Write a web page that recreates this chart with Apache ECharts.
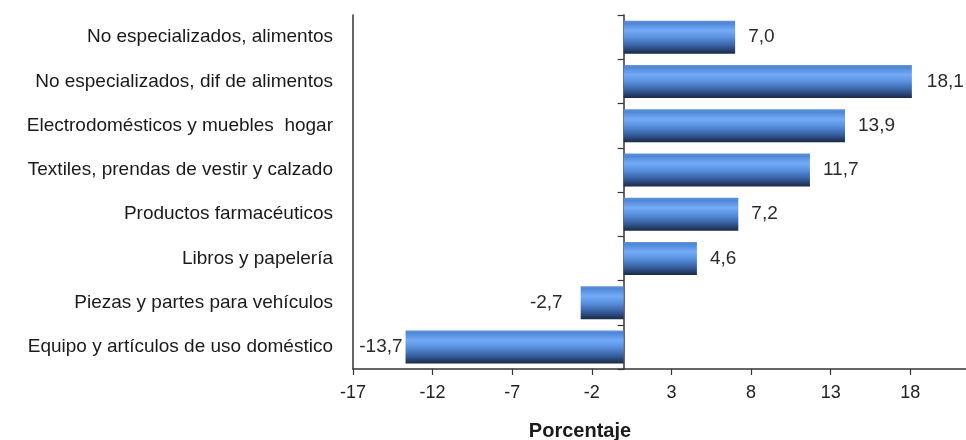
<!DOCTYPE html>
<html>
<head>
<meta charset="utf-8">
<script src="https://cdn.jsdelivr.net/npm/echarts@6/dist/echarts.min.js"></script>
<style>
  html, body { margin: 0; padding: 0; background: #ffffff; }
  #chart { width: 966px; height: 440px; }
</style>
</head>
<body>
<div id="chart"></div>
<script>
// Retail categories, listed top to bottom
const categories = [
  'No especializados, alimentos',
  'No especializados, dif de alimentos',
  'Electrodomésticos y muebles  hogar',
  'Textiles, prendas de vestir y calzado',
  'Productos farmacéuticos',
  'Libros y papelería',
  'Piezas y partes para vehículos',
  'Equipo y artículos de uso doméstico'
];

// Annual change, percent
const values = [7.0, 18.1, 13.9, 11.7, 7.2, 4.6, -2.7, -13.7];

// Tick marks on the percentage axis
const tickValues = [-17, -12, -7, -2, 3, 8, 13, 18];

// Gap between a bar end and its value label
const labelGaps = [13, 15, 13, 13, 13, 13, 18, 3];

const axisMin = -17;
const axisMax = 21.5;
const axisStep = 5;

const textFont = '"Liberation Sans", Arial, sans-serif';

const barFill = new echarts.graphic.LinearGradient(0, 0, 0, 1, [
  { offset: 0.00, color: '#6393d8' },
  { offset: 0.08, color: '#4f86d6' },
  { offset: 0.30, color: '#74abf8' },
  { offset: 0.50, color: '#5a92e0' },
  { offset: 0.75, color: '#3a63a6' },
  { offset: 1.00, color: '#1a2a47' }
]);

const fmt = v => v.toFixed(1).replace('.', ',');

const barData = values.map((v, i) => ({
  value: v,
  label: {
    position: v < 0 ? 'left' : 'right',
    distance: labelGaps[i]
  }
}));

const chart = echarts.init(document.getElementById('chart'), null, { renderer: 'canvas' });

chart.setOption({
  animation: false,
  backgroundColor: '#ffffff',
  grid: { left: 353, right: 0, top: 15, bottom: 71, containLabel: false },
  xAxis: {
    type: 'value',
    min: axisMin,
    max: axisMax,
    interval: axisStep,
    axisLine: { show: true, onZero: false, lineStyle: { color: '#333333', width: 1.5 } },
    axisTick: {
      show: true,
      length: 6,
      customValues: tickValues,
      lineStyle: { color: '#333333', width: 1.2 }
    },
    splitLine: { show: false },
    axisLabel: {
      margin: 15,
      fontSize: 18,
      fontFamily: textFont,
      color: '#222222',
      customValues: tickValues,
      formatter: v => String(v)
    }
  },
  yAxis: [
    {
      // left frame line and category names
      type: 'category',
      data: categories,
      inverse: true,
      position: 'left',
      axisLine: { show: true, onZero: false, lineStyle: { color: '#333333', width: 1.5 } },
      axisTick: { show: false },
      axisLabel: {
        margin: 20,
        fontSize: 19,
        fontFamily: textFont,
        color: '#1a1a1a'
      }
    },
    {
      // zero line with category separators
      type: 'category',
      data: categories,
      inverse: true,
      position: 'left',
      axisLine: { show: true, onZero: true, lineStyle: { color: '#333333', width: 1.5 } },
      axisTick: { show: true, length: 6, lineStyle: { color: '#333333', width: 1.2 } },
      axisLabel: { show: false }
    }
  ],
  series: [{
    type: 'bar',
    yAxisIndex: 0,
    data: barData,
    barWidth: 33,
    itemStyle: { color: barFill },
    label: {
      show: true,
      fontSize: 19,
      fontFamily: textFont,
      color: '#2a2a2a',
      formatter: p => fmt(p.value)
    },
    z: 1
  }],
  graphic: [{
    type: 'text',
    x: 580,
    y: 431,
    style: {
      text: 'Porcentaje',
      fill: '#1a1a1a',
      font: 'bold 20px "Liberation Sans", Arial, sans-serif',
      textAlign: 'center',
      textVerticalAlign: 'middle'
    }
  }]
});
</script>
</body>
</html>
